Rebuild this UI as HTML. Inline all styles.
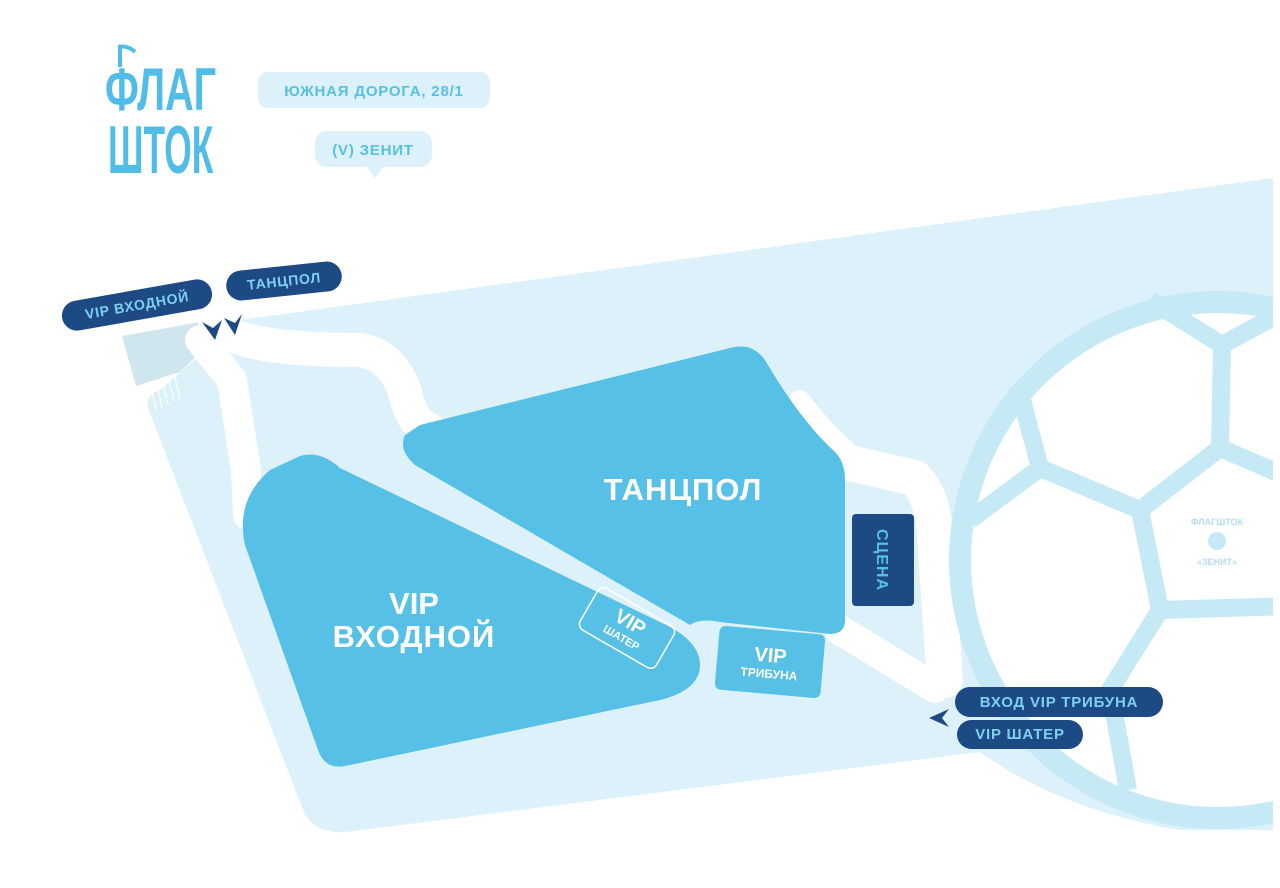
<!DOCTYPE html>
<html><head><meta charset="utf-8"><style>
html,body{margin:0;padding:0;background:#fff;}
body{width:1280px;height:888px;overflow:hidden;font-family:"Liberation Sans","DejaVu Sans",sans-serif;}
</style></head><body>
<svg width="1280" height="888" viewBox="0 0 1280 888" xmlns="http://www.w3.org/2000/svg" style="display:block">
<defs>
<clipPath id="cl"><rect x="0" y="0" width="1273" height="888"/></clipPath>
</defs>
<path d="M240,320 L1273,178 L1273,830 L1180,830 Q1060,810 980,752 L345,832 Q318,834 305,815 L148,408 Q145,395 160,390 Z" fill="#dcf1f9"/>
<polygon points="122,336 200,322 208,345 180,372 136,386" fill="#cfe6ee"/>
<g stroke="#fff" stroke-width="1.2"><line x1="150" y1="382" x2="156" y2="410"/><line x1="156" y1="380" x2="162" y2="408"/><line x1="162" y1="378" x2="168" y2="405"/><line x1="168" y1="376" x2="174" y2="402"/><line x1="174" y1="373" x2="180" y2="399"/></g>
<g fill="none" stroke="#fff" stroke-linecap="round" stroke-linejoin="round">
<path d="M215,322 Q230,350 360,350 Q392,355 405,392 Q412,425 430,430" stroke-width="34"/>
<path d="M200,340 L232,380 L246,470 L248,515" stroke-width="30"/>
<path d="M845,462 L915,478 Q935,500 935,540 L945,680" stroke-width="36"/>
<path d="M800,400 Q830,440 870,470" stroke-width="20"/>
<path d="M840,630 L935,688" stroke-width="30"/>
</g>
<g clip-path="url(#cl)">
<circle cx="1218" cy="560" r="258" fill="#fff" stroke="#c6e9f6" stroke-width="22"/>
<g fill="none" stroke="#c6e9f6" stroke-width="18" stroke-linejoin="round">
<polyline points="1150,300 1222,345 1290,308"/>
<polyline points="1222,345 1220,448 1290,478"/>
<polyline points="1220,448 1140,510 1040,468 1018,385"/>
<polyline points="1040,468 970,520"/>
<polyline points="1140,510 1160,610 1290,606"/>
<polyline points="1160,610 1110,690 1128,790"/>
</g>
<circle cx="1217" cy="541" r="9" fill="#c6e9f6"/>
<text font-size="9" font-weight="bold" fill="#b6ddec" text-anchor="middle" transform="translate(1217,541)"><tspan x="0" y="-16">ФЛАГШТОК</tspan><tspan x="0" y="24">«ЗЕНИТ»</tspan></text>
</g>
<path d="M420,425 L730,348 Q752,342 765,360 Q800,420 835,452 Q845,462 845,480 L845,620 Q845,634 830,634 L720,622 Q700,618 690,625 L415,465 Q398,450 405,435 Z" fill="#56c0e6"/>
<path d="M300,456 Q320,450 340,468 L660,622 Q700,640 700,665 Q700,690 660,700 L345,766 Q325,770 318,750 L245,545 Q235,500 270,470 Z" fill="#56c0e6"/>
<g transform="translate(770,662) rotate(5)"><rect x="-53" y="-32" width="106" height="64" rx="6" fill="#56c0e6"/>
<text y="0" font-size="20" font-weight="bold" fill="#fff" text-anchor="middle">VIP</text>
<text y="16" font-size="12" font-weight="bold" fill="#fff" text-anchor="middle">ТРИБУНА</text></g>
<g transform="translate(627,628) rotate(30)"><rect x="-44" y="-24" width="88" height="48" rx="7" fill="none" stroke="#fff" stroke-width="1.5"/>
<text y="0" font-size="20" font-weight="bold" fill="#fff" text-anchor="middle">VIP</text>
<text y="15" font-size="11" font-weight="bold" fill="#fff" text-anchor="middle">ШАТЕР</text></g>
<text x="683" y="500" font-size="31" font-weight="bold" fill="#fff" text-anchor="middle" letter-spacing="1">ТАНЦПОЛ</text>
<text x="414" y="614" font-size="31" font-weight="bold" fill="#fff" text-anchor="middle">VIP</text>
<text x="414" y="647" font-size="31" font-weight="bold" fill="#fff" text-anchor="middle" letter-spacing="1">ВХОДНОЙ</text>
<rect x="852" y="514" width="62" height="92" rx="4" fill="#1d4a85"/>
<text transform="translate(877,560) rotate(90)" font-size="16" font-weight="bold" fill="#56c0e6" text-anchor="middle" letter-spacing="1">СЦЕНА</text>
<g transform="translate(137,305) rotate(-10)"><rect x="-76" y="-15" width="152" height="30" rx="15" fill="#1d4a85"/><text y="5" font-size="14" font-weight="bold" fill="#7ed0f2" text-anchor="middle" letter-spacing="0.8">VIP ВХОДНОЙ</text></g>
<g transform="translate(284,281) rotate(-6)"><rect x="-58" y="-15" width="116" height="30" rx="15" fill="#1d4a85"/><text y="5" font-size="14" font-weight="bold" fill="#7ed0f2" text-anchor="middle" letter-spacing="0.8">ТАНЦПОЛ</text></g>
<polygon points="202,322 213,328 222,320 215,340" fill="#1d4a85"/>
<polygon points="224,318 235,323 242,314 235,335" fill="#1d4a85"/>
<rect x="955" y="687" width="208" height="30" rx="15" fill="#1d4a85"/>
<text x="1059" y="707" font-size="15" font-weight="bold" fill="#7ed0f2" text-anchor="middle" letter-spacing="0.8">ВХОД VIP ТРИБУНА</text>
<rect x="957" y="720" width="126" height="29" rx="14.5" fill="#1d4a85"/>
<text x="1020" y="739" font-size="15" font-weight="bold" fill="#7ed0f2" text-anchor="middle" letter-spacing="0.8">VIP ШАТЕР</text>
<polygon points="929,718 949,709 942,718 949,727" fill="#1d4a85"/>
<rect x="258" y="72" width="232" height="36" rx="10" fill="#dcf1f9"/>
<text x="374" y="96" font-size="15" font-weight="bold" fill="#56c0e6" text-anchor="middle" letter-spacing="0.8">ЮЖНАЯ ДОРОГА, 28/1</text>
<rect x="315" y="131" width="117" height="36" rx="12" fill="#dcf1f9"/>
<polygon points="366,166 384,166 375,178" fill="#dcf1f9"/>
<text x="373" y="155" font-size="15" font-weight="bold" fill="#56c0e6" text-anchor="middle" letter-spacing="0.8">(V) ЗЕНИТ</text>
<g fill="#4fbde8" font-weight="bold" font-family="'Liberation Sans Narrow','Liberation Sans',sans-serif">
<text transform="translate(105,110) scale(0.66,1)" font-size="60">ФЛАГ</text>
<text transform="translate(108,173) scale(0.52,1)" font-size="68">ШТОК</text>
</g>
<rect x="118" y="45" width="4" height="22" fill="#4fbde8"/>
<path d="M118,47 Q128,45 135,52" stroke="#4fbde8" stroke-width="4" fill="none"/>
</svg>
</body></html>
